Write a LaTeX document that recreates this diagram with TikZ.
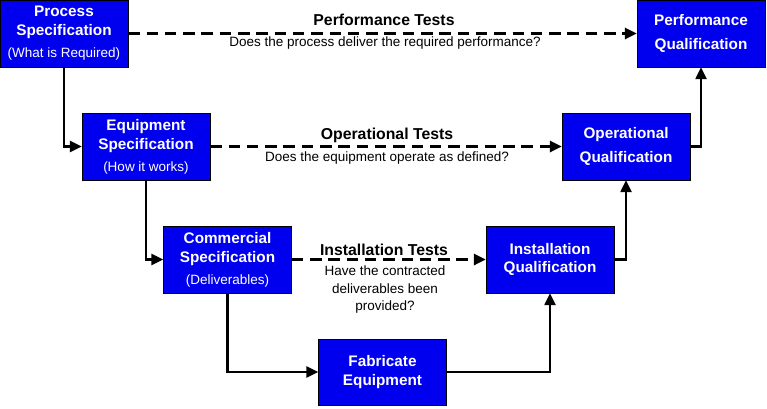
\documentclass[tikz,border=0pt]{standalone}
\usepackage{fontspec}
\setmainfont{Liberation Sans}
\usetikzlibrary{arrows.meta}
\definecolor{boxblue}{RGB}{0,0,238}
\newcommand{\subnote}[1]{{\fontsize{13.5}{15}\selectfont\mdseries #1}}
\begin{document}
\begin{tikzpicture}[x=1pt,y=-1pt,
  stage/.style={draw=black,fill=boxblue,text=white,minimum width=128pt,minimum height=67pt,inner sep=0pt,align=center,font=\fontsize{15.3}{19}\selectfont\bfseries},
  flow/.style={line width=2.4pt,-{Triangle[length=12pt,width=11pt]}},
  test/.style={line width=3pt,dash pattern=on 11.5pt off 6.8pt,-{Triangle[length=12pt,width=11pt]}},
  head/.style={font=\fontsize{15.8}{17}\selectfont\bfseries},
  ask/.style={font=\fontsize{13.5}{17.5}\selectfont,align=center}]
\useasboundingbox (0,0) rectangle (767,408);
\node[stage] (ps) at (64,33.5) {Process\\Specification\\[3pt]\subnote{(What is Required)}};
\node[stage] (es) at (146,146.5) {Equipment\\Specification\\[3pt]\subnote{(How it works)}};
\node[stage] (cs) at (227.5,259.5) {Commercial\\Specification\\[3pt]\subnote{(Deliverables)}};
\node[stage,minimum height=66pt] (fe) at (382.5,372) {Fabricate\\Equipment};
\node[stage,font=\fontsize{15.3}{18}\selectfont\bfseries] (iq) at (550,259.5) {Installation\\Qualification};
\node[stage,font=\fontsize{15.3}{24}\selectfont\bfseries] (oq) at (626,146.5) {Operational\\Qualification};
\node[stage,font=\fontsize{15.3}{24}\selectfont\bfseries] (pq) at (701,33.5) {Performance\\Qualification};
\draw[flow] (ps.south) |- (es.west);
\draw[flow] (es.south) |- (cs.west);
\draw[flow] (cs.south) |- (fe.west);
\draw[flow] (fe.east) -| (iq.south);
\draw[flow] (iq.east) -| (oq.south);
\draw[flow] (oq.east) -| (pq.south);
\draw[test] (ps.east) -- (pq.west);
\draw[test] (es.east) -- (oq.west);
\draw[test] (cs.east) -- (iq.west);
\node[head] (pt) at (384,20) {Performance Tests};
\node[ask] (pa) at (385,43) {Does the process deliver the required performance?};
\node[head] (ot) at (387,135) {Operational Tests};
\node[ask] (oa) at (387,158) {Does the equipment operate as defined?};
\node[head] (it) at (384,250) {Installation Tests};
\node[ask] (ia) at (385,290) {Have the contracted\\deliverables been\\provided?};
\end{tikzpicture}
\end{document}
